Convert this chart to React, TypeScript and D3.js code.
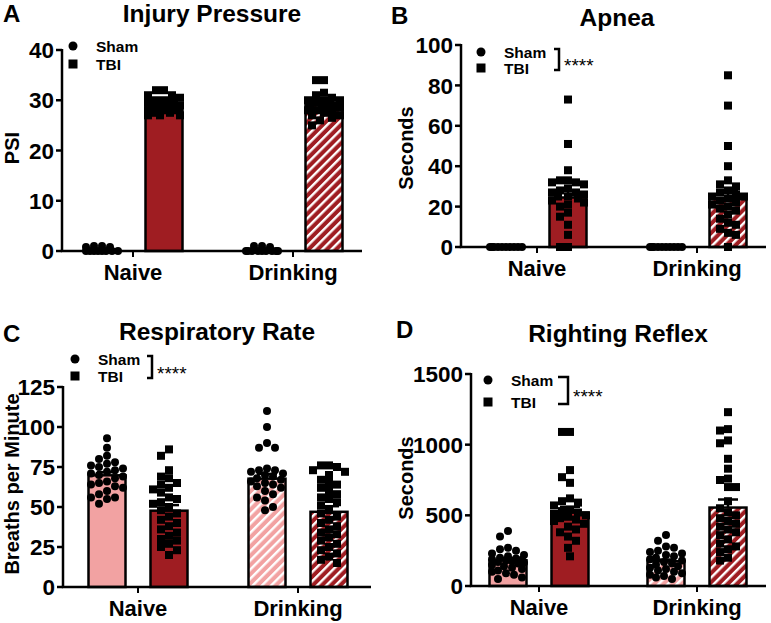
import React from 'react';
import * as d3 from 'd3';

const groups = ['Naive', 'Drinking'];
const series = ['Sham', 'TBI'];
// bar order everywhere: Naive Sham, Naive TBI, Drinking Sham, Drinking TBI

// A - Injury Pressure
const psiTicks = [0, 10, 20, 30, 40];
const psiMean = [0, 29, 0, 29];
const psiSem = [0, 0.3, 0, 0.45];
const psiNaiveSham = [0, 0, 0, 0, 0, 0, 0, 0, 0.8, 0.8, 1, 1];
const psiNaiveTbi = [32, 32, 31, 31, 30.5, 30, 30, 30, 29.5, 29.5, 29, 29, 29, 28.5, 28.5, 28, 28, 28, 27.5, 27.5, 27, 27, 27, 28.8];
const psiDrinkSham = [0, 0, 0, 0, 0, 0, 0, 0, 0, 0.8, 1, 1];
const psiDrinkTbi = [34, 34, 31.5, 31, 30.5, 30, 30, 30, 29.5, 29.5, 29, 29, 29, 28.5, 28, 28, 28, 27.5, 27, 27, 26.5, 26, 25, 29];

// B - Apnea
const apneaTicks = [0, 20, 40, 60, 80, 100];
const apneaMean = [0, 24.5, 0, 23.8];
const apneaSem = [0, 3.2, 0, 3.8];
const apneaNaiveSham = [0, 0, 0, 0, 0, 0, 0, 0, 0, 0];
const apneaNaiveTbi = [73, 51, 38, 33, 33, 32, 32, 31, 29, 28, 27, 27, 26, 25, 25, 24, 23, 22, 21, 20, 17, 15, 11, 6, 0, 0];
const apneaDrinkSham = [0, 0, 0, 0, 0, 0, 0, 0, 0, 0];
const apneaDrinkTbi = [85, 70, 50, 40, 33, 31, 30, 28, 27, 26, 25, 25, 24, 23, 22, 21, 20, 19, 18, 16, 14, 12, 11, 9, 7, 6, 0];

// C - Respiratory Rate
const respTicks = [0, 25, 50, 75, 100, 125];
const respMean = [69.8, 47.7, 67.7, 47];
const respSem = [2, 3.5, 3, 3.5];
const respNaiveSham = [93, 87, 82, 80, 78, 77, 76, 75, 74, 73, 72, 71, 70, 69, 68, 66, 65, 64, 63, 62, 60, 58, 56, 56, 55, 52];
const respNaiveTbi = [86, 82, 73, 69, 68, 65, 64, 62, 61, 59, 56, 55, 53, 52, 50, 48, 46, 44, 42, 40, 38, 36, 34, 32, 30, 29, 27, 25, 23, 20];
const respDrinkSham = [110, 100, 90, 87, 87, 74, 73, 73, 72, 71, 70, 69, 68, 67, 66, 65, 64, 63, 62, 60, 58, 56, 54, 50, 48];
const respDrinkTbi = [76, 76, 75, 73, 72, 70, 67, 65, 64, 62, 60, 58, 56, 55, 53, 51, 48, 46, 44, 42, 40, 38, 36, 34, 33, 31, 29, 27, 25, 23, 21, 19, 17, 15];

// D - Righting Reflex
const rightTicks = [0, 500, 1000, 1500];
const rightMean = [182, 520, 175, 555];
const rightSem = [15, 40, 12, 57];
const rightNaiveSham = [390, 350, 270, 260, 250, 230, 220, 210, 200, 195, 190, 185, 180, 175, 170, 165, 160, 150, 140, 130, 120, 110, 100, 90, 80, 60, 50];
const rightNaiveTbi = [1090, 1090, 820, 770, 730, 620, 600, 590, 570, 540, 530, 520, 510, 500, 490, 480, 470, 460, 440, 420, 400, 380, 350, 320, 270, 210];
const rightDrinkSham = [360, 320, 280, 270, 250, 240, 230, 220, 210, 200, 190, 180, 170, 160, 150, 140, 130, 120, 110, 100, 90, 80, 70, 60, 50];
const rightDrinkTbi = [1230, 1110, 1100, 1030, 1010, 900, 830, 760, 750, 700, 700, 600, 550, 520, 500, 480, 460, 440, 420, 400, 380, 360, 330, 300, 280, 260, 240, 200, 180];

const RED = '#9f1d22';
const PINK = '#f2a2a2';
const FONT = '"Liberation Sans", Arial, sans-serif';

const panels = [
  {
    letter: 'A', title: 'Injury Pressure', yLabel: 'PSI', ticks: psiTicks, means: psiMean, sems: psiSem,
    points: [psiNaiveSham, psiNaiveTbi, psiDrinkSham, psiDrinkTbi],
    x0: 62, x1: 362, yTop: 50, yBot: 251, centers: [133, 293],
    letterPos: [3, 22], titlePos: [212, 22], yLabelPos: [19, 148],
    legend: [73, 46, 64], sig: null,
  },
  {
    letter: 'B', title: 'Apnea', yLabel: 'Seconds', ticks: apneaTicks, means: apneaMean, sems: apneaSem,
    points: [apneaNaiveSham, apneaNaiveTbi, apneaDrinkSham, apneaDrinkTbi],
    x0: 461, x1: 766, yTop: 45, yBot: 247, centers: [537, 697],
    letterPos: [391, 24], titlePos: [617, 26], yLabelPos: [413, 148],
    legend: [481, 52, 68], sig: [554, 5],
  },
  {
    letter: 'C', title: 'Respiratory Rate', yLabel: 'Breaths per Minute', ticks: respTicks, means: respMean, sems: respSem,
    points: [respNaiveSham, respNaiveTbi, respDrinkSham, respDrinkTbi],
    x0: 63, x1: 371, yTop: 387, yBot: 587, centers: [138, 298],
    letterPos: [3, 342], titlePos: [217, 340], yLabelPos: [19, 484],
    legend: [75, 359, 376], sig: [147, 5],
  },
  {
    letter: 'D', title: 'Righting Reflex', yLabel: 'Seconds', ticks: rightTicks, means: rightMean, sems: rightSem,
    points: [rightNaiveSham, rightNaiveTbi, rightDrinkSham, rightDrinkTbi],
    x0: 471, x1: 766, yTop: 374, yBot: 586, centers: [539, 697],
    letterPos: [396, 338], titlePos: [618, 342], yLabelPos: [413, 478],
    legend: [488, 380, 402], sig: [558, 10],
  },
];

const MARK = 8;
const BAR_W = 37;

// beeswarm: each point takes the least crowded sideways slot inside the bar
function swarm(values: number[], y: (v: number) => number, half: number) {
  const order = d3.range(values.length).sort((a, b) => d3.descending(values[a], values[b]));
  const placed: { x: number; y: number }[] = [];
  const xs: number[] = new Array(values.length);
  const step = 2;
  const cands = [0];
  for (let k = 1; k * step <= half; k++) cands.push(-k * step, k * step);
  for (const i of order) {
    const py = y(values[i]);
    let best = 0, bestCost = Infinity;
    for (const c of cands) {
      let cost = 0;
      for (const p of placed) {
        const ox = Math.max(0, MARK - Math.abs(p.x - c));
        const oy = Math.max(0, MARK - Math.abs(p.y - py));
        cost += ox * ox * oy * oy;
      }
      if (cost < bestCost - 1e-6) { bestCost = cost; best = c; }
      if (cost === 0) break;
    }
    placed.push({ x: best, y: py });
    xs[i] = best;
  }
  return xs;
}

const Panel = ({ p }: { p: any }) => {
  const y = d3.scaleLinear().domain([p.ticks[0], p.ticks[p.ticks.length - 1]]).range([p.yBot, p.yTop]);
  const gx = d3.scalePoint<string>().domain(groups).range(p.centers);
  const sx = d3.scalePoint<string>().domain(series).range([-31, 31]);
  const fills = [PINK, RED, 'url(#stripePink)', 'url(#stripeRed)'];
  const txt = { fontFamily: FONT, fontWeight: 700 as const, fill: '#000' };

  return (
    <g>
      <text x={p.letterPos[0]} y={p.letterPos[1]} fontSize={24} {...txt}>{p.letter}</text>
      <text x={p.titlePos[0]} y={p.titlePos[1]} fontSize={24.5} textAnchor="middle" {...txt}>{p.title}</text>
      <text transform={`translate(${p.yLabelPos[0]},${p.yLabelPos[1]}) rotate(-90)`} fontSize={20}
        textAnchor="middle" {...txt}>{p.yLabel}</text>

      {groups.map((g, gi) => series.map((s, si) => {
        const idx = gi * 2 + si;
        const cx = (gx(g) as number) + (sx(s) as number);
        const m = p.means[idx];
        const sem = p.sems[idx];
        const vals: number[] = p.points[idx];
        const xs = swarm(vals, y, BAR_W / 2 - 1.5);
        return (
          <g key={g + s}>
            {m > 0 && (
              <rect x={cx - BAR_W / 2} y={y(m)} width={BAR_W} height={y(0) - y(m)}
                fill={fills[idx]} stroke="#000" strokeWidth={2.5} />
            )}
            {sem > 0 && (
              <g stroke="#000" strokeWidth={2.5}>
                <line x1={cx} x2={cx} y1={y(m)} y2={y(m + sem)} />
                <line x1={cx - 10} x2={cx + 10} y1={y(m + sem)} y2={y(m + sem)} />
              </g>
            )}
            {vals.map((v, i) => s === 'Sham'
              ? <circle key={i} cx={cx + xs[i]} cy={y(v)} r={MARK / 2} fill="#000" />
              : <rect key={i} x={cx + xs[i] - MARK / 2} y={y(v) - MARK / 2} width={MARK} height={MARK} fill="#000" />)}
          </g>
        );
      }))}

      {/* axes */}
      <line x1={p.x0} x2={p.x0} y1={p.yTop - 1} y2={p.yBot} stroke="#000" strokeWidth={2.5} />
      <line x1={p.x0 - 1.25} x2={p.x1} y1={p.yBot} y2={p.yBot} stroke="#000" strokeWidth={2.5} />
      {p.ticks.map((t: number) => (
        <g key={t}>
          <line x1={p.x0 - 6} x2={p.x0} y1={y(t)} y2={y(t)} stroke="#000" strokeWidth={2.5} />
          <text x={p.x0 - 8} y={y(t)} dy="0.36em" fontSize={22.5} textAnchor="end" {...txt}>{t}</text>
        </g>
      ))}
      {groups.map(g => (
        <g key={g}>
          <line x1={gx(g)} x2={gx(g)} y1={p.yBot} y2={p.yBot + 6} stroke="#000" strokeWidth={2} />
          <text x={gx(g)} y={p.yBot + 29} fontSize={22} textAnchor="middle" {...txt}>{g}</text>
        </g>
      ))}

      {/* legend */}
      <circle cx={p.legend[0]} cy={p.legend[1]} r={4.5} fill="#000" />
      <rect x={p.legend[0] - 4.5} y={p.legend[2] - 4.5} width={9} height={9} fill="#000" />
      <text x={p.legend[0] + 23} y={p.legend[1]} dy="0.36em" fontSize={15.5} {...txt}>{series[0]}</text>
      <text x={p.legend[0] + 23} y={p.legend[2]} dy="0.36em" fontSize={15.5} {...txt}>{series[1]}</text>
      {p.sig && (
        <g>
          <path d={`M${p.sig[0]},${p.legend[1] - 3}H${p.sig[0] + p.sig[1]}V${p.legend[2] + 2}H${p.sig[0]}`}
            fill="none" stroke="#000" strokeWidth={2.5} />
          <text x={p.sig[0] + p.sig[1] + 5} y={(p.legend[1] + p.legend[2]) / 2 + 12} fontSize={19}
            fontFamily={FONT} fill="#000">****</text>
        </g>
      )}
    </g>
  );
};

export default function App() {
  return (
    <svg width={771} height={623} style={{ position: 'absolute', left: 0, top: 0, background: '#fff' }}>
      <defs>
        <pattern id="stripeRed" width={6.5} height={6.5} patternUnits="userSpaceOnUse" patternTransform="rotate(45)">
          <rect width={6.5} height={6.5} fill={RED} />
          <rect x={0} width={2.4} height={6.5} fill="#fff" />
        </pattern>
        <pattern id="stripePink" width={6.5} height={6.5} patternUnits="userSpaceOnUse" patternTransform="rotate(45)">
          <rect width={6.5} height={6.5} fill={PINK} />
          <rect x={0} width={2.4} height={6.5} fill="#fff" />
        </pattern>
      </defs>
      {panels.map(p => <Panel key={p.letter} p={p} />)}
    </svg>
  );
}
